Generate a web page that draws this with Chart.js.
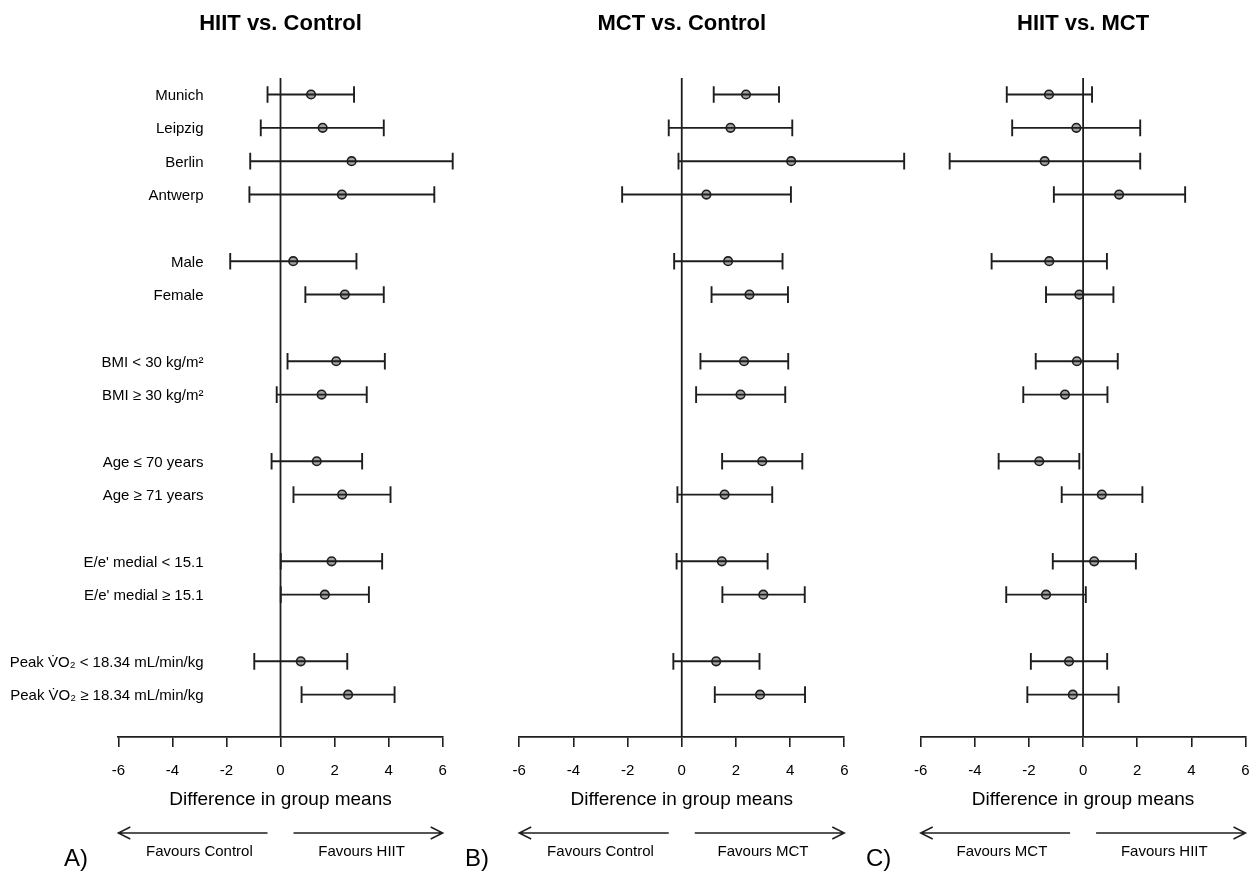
<!DOCTYPE html>
<html lang="en">
<head>
  <meta charset="UTF-8" />
  <title>Subgroup forest plots</title>
  <script src="https://cdn.jsdelivr.net/npm/chart.js"></script>
  <style>
    body { margin: 0; background: #fff; width: 1258px; height: 871px; overflow: hidden; position: relative; }
    canvas { position: absolute; top: 0; }
  </style>
</head>
<body>
  <canvas id="panelA" width="480" height="871" style="left:0px"></canvas>
  <canvas id="panelB" width="480" height="871" style="left:450px"></canvas>
  <canvas id="panelC" width="440" height="871" style="left:850px"></canvas>

  <script>
    // subgroup rows (blank rows between groups)
    const rowPos = [0, 1, 2, 3, 5, 6, 8, 9, 11, 12, 14, 15, 17, 18];
    const rowLabels = [
      "Munich", "Leipzig", "Berlin", "Antwerp",
      "Male", "Female",
      "BMI < 30 kg/m²", "BMI ≥ 30 kg/m²",
      "Age ≤ 70 years", "Age ≥ 71 years",
      "E/e' medial < 15.1", "E/e' medial ≥ 15.1",
      "Peak V\u0307O₂ < 18.34 mL/min/kg", "Peak V\u0307O₂ ≥ 18.34 mL/min/kg"
    ];
    const xTicks = [-6, -4, -2, 0, 2, 4, 6];

    // HIIT vs. Control
    const hcMean = [1.13, 1.56, 2.63, 2.27, 0.47, 2.38, 2.06, 1.52, 1.34, 2.28, 1.89, 1.64, 0.75, 2.50];
    const hcLow  = [-0.48, -0.73, -1.12, -1.15, -1.86, 0.92, 0.26, -0.14, -0.33, 0.48, 0.01, 0.01, -0.97, 0.78];
    const hcHigh = [2.72, 3.82, 6.37, 5.69, 2.81, 3.82, 3.86, 3.19, 3.02, 4.07, 3.76, 3.27, 2.47, 4.22];

    // MCT vs. Control
    const mcMean = [2.37, 1.80, 4.04, 0.91, 1.71, 2.50, 2.30, 2.17, 2.97, 1.58, 1.48, 3.01, 1.27, 2.89];
    const mcLow  = [1.18, -0.48, -0.12, -2.20, -0.28, 1.10, 0.69, 0.53, 1.49, -0.16, -0.19, 1.50, -0.31, 1.22];
    const mcHigh = [3.59, 4.08, 8.21, 4.03, 3.72, 3.92, 3.93, 3.82, 4.45, 3.34, 3.17, 4.54, 2.87, 4.55];

    // HIIT vs. MCT
    const hmMean = [-1.26, -0.25, -1.42, 1.33, -1.25, -0.14, -0.23, -0.67, -1.62, 0.69, 0.41, -1.37, -0.52, -0.38];
    const hmLow  = [-2.82, -2.62, -4.93, -1.08, -3.38, -1.37, -1.75, -2.21, -3.12, -0.79, -1.12, -2.84, -1.93, -2.06];
    const hmHigh = [0.33, 2.11, 2.11, 3.77, 0.88, 1.12, 1.28, 0.90, -0.14, 2.19, 1.95, 0.10, 0.89, 1.31];

    const FONT = "'Liberation Sans', Arial, sans-serif";
    const INK = "#1e1e1e";
    const Y_MIN = -0.495, Y_MAX = 19.27;
    const CAP = 0.25; // half cap height in row units

    function drawArrow(ctx, x0, x1, y) {
      const dir = Math.sign(x1 - x0);
      ctx.beginPath();
      ctx.moveTo(x0, y); ctx.lineTo(x1, y);
      ctx.moveTo(x1 - dir * 12, y - 6); ctx.lineTo(x1, y); ctx.lineTo(x1 - dir * 12, y + 6);
      ctx.stroke();
    }

    const extras = {
      id: "extras",
      afterDraw(chart, args, o) {
        const { ctx } = chart;
        const x = chart.scales.x, y = chart.scales.y;
        ctx.save();
        ctx.strokeStyle = INK;
        ctx.fillStyle = "#000";
        ctx.lineWidth = 1.5;
        drawArrow(ctx, x.getPixelForValue(-0.48), x.getPixelForValue(-6), 833);
        drawArrow(ctx, x.getPixelForValue(0.48), x.getPixelForValue(6), 833);
        ctx.font = "15px " + FONT;
        ctx.textAlign = "center";
        ctx.textBaseline = "middle";
        ctx.fillText(o.left, x.getPixelForValue(-3), 852);
        ctx.fillText(o.right, x.getPixelForValue(3), 852);
        ctx.font = "24px " + FONT;
        ctx.textAlign = "left";
        ctx.fillText(o.letter, o.letterX, 859);
        if (o.labels) {
          ctx.font = "15px " + FONT;
          ctx.textAlign = "right";
          o.labels.forEach((t, i) => ctx.fillText(t, o.labelX, y.getPixelForValue(rowPos[i]) + 1.5));
        }
        ctx.restore();
      }
    };

    function makePanel(id, title, mean, low, high, pad, extra) {
      const datasets = [{
        type: "line",
        data: [{ x: 0, y: Y_MIN }, { x: 0, y: Y_MAX }],
        borderColor: INK, borderWidth: 1.8, pointRadius: 0, clip: false
      }];
      rowPos.forEach((r, i) => {
        // upper end first so the points are not x-sorted and nothing past the axis end is trimmed
        datasets.push({
          type: "line",
          data: [
            { x: high[i], y: r - CAP }, { x: high[i], y: r + CAP }, { x: high[i], y: null },
            { x: high[i], y: r }, { x: low[i], y: r }, { x: low[i], y: null },
            { x: low[i], y: r - CAP }, { x: low[i], y: r + CAP }
          ],
          borderColor: INK, borderWidth: 1.9, pointRadius: 0,
          spanGaps: false, clip: false
        });
      });
      datasets.push({
        type: "scatter",
        data: rowPos.map((r, i) => ({ x: mean[i], y: r })),
        pointRadius: 4.3, pointBackgroundColor: "#a3a3a3",
        pointBorderColor: INK, pointBorderWidth: 1.6, clip: false
      });

      return new Chart(document.getElementById(id), {
        data: { datasets },
        plugins: [extras],
        options: {
          responsive: false, animation: false, devicePixelRatio: 1,
          layout: { padding: pad },
          plugins: {
            legend: { display: false },
            tooltip: { enabled: false },
            title: {
              display: true, text: title, color: "#000",
              font: { family: FONT, size: 22, weight: "bold" },
              padding: { top: 10.8, bottom: 40.8 }
            },
            extras: extra
          },
          scales: {
            x: {
              type: "linear", min: -6, max: 6,
              afterBuildTicks: s => { s.ticks = xTicks.map(v => ({ value: v })); },
              afterFit: s => { s.height = 134; },
              grid: { drawOnChartArea: false, drawTicks: true, tickLength: 10, color: INK, lineWidth: 1.6 },
              border: { display: true, color: INK, width: 1.7 },
              ticks: { color: "#000", padding: 15, font: { family: FONT, size: 15 } },
              title: {
                display: true, text: "Difference in group means", color: "#000",
                font: { family: FONT, size: 19 }, padding: { top: 0, bottom: 59.6 }
              }
            },
            y: { type: "linear", min: Y_MIN, max: Y_MAX, reverse: true, display: false }
          }
        }
      });
    }

    makePanel("panelA", "HIIT vs. Control", hcMean, hcLow, hcHigh,
      { left: 118.3, right: 480 - 442.7, top: 0, bottom: 0 },
      { left: "Favours Control", right: "Favours HIIT", letter: "A)", letterX: 64, labels: rowLabels, labelX: 203.5 });

    makePanel("panelB", "MCT vs. Control", mcMean, mcLow, mcHigh,
      { left: 519.2 - 450, right: 930 - 844.3, top: 0, bottom: 0 },
      { left: "Favours Control", right: "Favours MCT", letter: "B)", letterX: 465 - 450 });

    makePanel("panelC", "HIIT vs. MCT", hmMean, hmLow, hmHigh,
      { left: 920.7 - 850, right: 1290 - 1245.5, top: 0, bottom: 0 },
      { left: "Favours MCT", right: "Favours HIIT", letter: "C)", letterX: 866 - 850 });
  </script>
</body>
</html>
